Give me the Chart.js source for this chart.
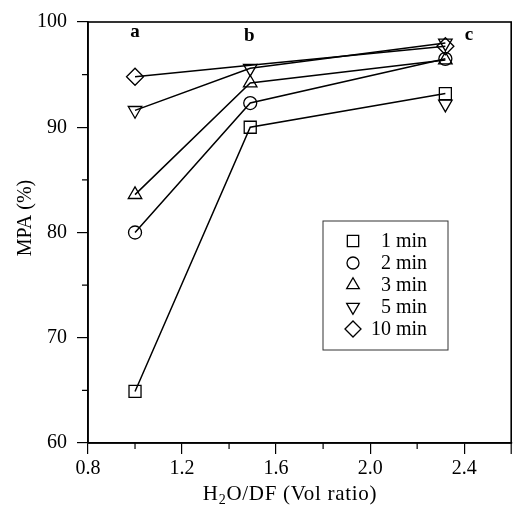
<!DOCTYPE html>
<html>
<head>
<meta charset="utf-8">
<script src="https://cdn.jsdelivr.net/npm/chart.js@4.4.0/dist/chart.umd.min.js"></script>
<style>
  html, body { margin: 0; padding: 0; background: #fff; }
  #wrap { width: 521px; height: 513px; }
</style>
</head>
<body>
<div id="wrap"><canvas id="mpaChart"></canvas></div>
<script>
// values
const ratios = [1.0, 1.49, 2.32];
const seriesLabels = ['1 min', '2 min', '3 min', '5 min', '10 min'];
const mpa1 = [64.9, 90.0, 93.2];
const mpa2 = [80.0, 92.3, 96.5];
const mpa3 = [83.6, 94.2, 96.4];
const mpa5 = [91.6, 95.6, 98.0];
const mpa10 = [94.8, 95.9, 97.7];
// lone 5 min marker at the right with no line
const strayX = [2.32];
const strayY = [92.2];

const xTicks = [0.8, 1.2, 1.6, 2.0, 2.4];
const xMinor = [1.0, 1.4, 1.8, 2.2, 2.6];
const yTicks = [60, 70, 80, 90, 100];
const yMinor = [65, 75, 85, 95];

const panelLetters = ['a', 'b', 'c'];
const letterX = [1.0, 1.486, 2.42];
const letterY = [98.6, 98.2, 98.3];

const serif = "'Liberation Serif', 'Times New Roman', serif";
const markers = [
  { style: 'rect', r: 8.5, rot: 0 },
  { style: 'circle', r: 6.5, rot: 0 },
  { style: 'triangle', r: 7.8, rot: 0 },
  { style: 'triangle', r: 7.8, rot: 180 },
  { style: 'rectRot', r: 8.5, rot: 0 }
];
// the 10 min marker at b is not drawn in the figure (hidden under the 5 min one)
const hiddenPoint = { series: 4, index: 1 };

const allSeries = [mpa1, mpa2, mpa3, mpa5, mpa10];
const datasets = allSeries.map((vals, i) => ({
  label: seriesLabels[i],
  data: vals.map((v, j) => ({ x: ratios[j], y: v })),
  borderColor: '#000',
  borderWidth: 1.5,
  pointStyle: markers[i].style,
  pointRadius: vals.map((v, j) => (i === hiddenPoint.series && j === hiddenPoint.index) ? 0 : markers[i].r),
  pointRotation: markers[i].rot,
  pointBorderColor: '#000',
  pointBackgroundColor: 'rgba(0,0,0,0)',
  pointBorderWidth: 1.3,
  tension: 0
}));
datasets.push({
  label: '',
  data: strayX.map((x, j) => ({ x: x, y: strayY[j] })),
  showLine: false,
  pointStyle: 'triangle',
  pointRadius: 7.8,
  pointRotation: 180,
  pointBorderColor: '#000',
  pointBackgroundColor: 'rgba(0,0,0,0)',
  pointBorderWidth: 1.3
});

const extras = {
  id: 'extras',
  afterDraw(chart) {
    const ctx = chart.ctx;
    const a = chart.chartArea;
    const xs = chart.scales.x, ys = chart.scales.y;
    ctx.save();
    ctx.strokeStyle = '#000';
    ctx.fillStyle = '#000';

    // frame
    ctx.lineWidth = 1.6;
    ctx.strokeRect(a.left, a.top, a.right - a.left, a.bottom - a.top);

    // minor ticks
    ctx.lineWidth = 1.2;
    ctx.beginPath();
    xMinor.forEach(v => {
      const px = xs.getPixelForValue(v);
      const len = v === 2.6 ? 11 : 6;
      ctx.moveTo(px, a.bottom);
      ctx.lineTo(px, a.bottom + len);
    });
    yMinor.forEach(v => {
      const py = ys.getPixelForValue(v);
      ctx.moveTo(a.left, py);
      ctx.lineTo(a.left - 6, py);
    });
    ctx.stroke();

    // panel letters
    ctx.font = 'bold 19px ' + serif;
    ctx.textAlign = 'center';
    ctx.textBaseline = 'alphabetic';
    panelLetters.forEach((t, i) => {
      ctx.fillText(t, xs.getPixelForValue(letterX[i]), ys.getPixelForValue(letterY[i]));
    });

    // legend box
    const bx = 323, by = 221, bw = 125, bh = 129;
    ctx.lineWidth = 1;
    ctx.strokeStyle = '#333';
    ctx.strokeRect(bx, by, bw, bh);
    ctx.strokeStyle = '#000';
    ctx.font = '20px ' + serif;
    ctx.textAlign = 'right';
    ctx.textBaseline = 'middle';
    seriesLabels.forEach((lab, i) => {
      const cy = by + 20 + i * 22;
      ctx.fillStyle = 'rgba(0,0,0,0)';
      ctx.lineWidth = 1.3;
      Chart.helpers.drawPoint(ctx, {
        pointStyle: markers[i].style,
        radius: markers[i].r - 0.5,
        rotation: markers[i].rot,
        borderWidth: 1.3
      }, 353, cy);
      ctx.fillStyle = '#000';
      ctx.fillText(lab, 427, cy + 1);
    });

    // axis titles
    ctx.fillStyle = '#000';
    ctx.textAlign = 'left';
    ctx.textBaseline = 'alphabetic';
    ctx.letterSpacing = '0.7px';
    const big = '21px ' + serif, small = '14px ' + serif;
    const p1 = 'H', p2 = '2', p3 = 'O/DF (Vol ratio)';
    ctx.font = big;
    const w1 = ctx.measureText(p1).width, w3 = ctx.measureText(p3).width;
    ctx.font = small;
    const w2 = ctx.measureText(p2).width;
    const tx = 290 - (w1 + w2 + w3) / 2;
    const base = 500;
    ctx.font = big;
    ctx.fillText(p1, tx, base);
    ctx.font = small;
    ctx.fillText(p2, tx + w1, base + 4);
    ctx.font = big;
    ctx.fillText(p3, tx + w1 + w2, base);

    ctx.letterSpacing = '0px';
    ctx.font = '20px ' + serif;
    ctx.translate(31, 218);
    ctx.rotate(-Math.PI / 2);
    ctx.textAlign = 'center';
    ctx.fillText('MPA (%)', 0, 0);
    ctx.restore();
  }
};

const mpa_ctx = document.getElementById('mpaChart');
new Chart(mpa_ctx, {
  type: 'line',
  data: { datasets: datasets },
  options: {
    responsive: true,
    maintainAspectRatio: false,
    animation: false,
    layout: { padding: { left: 0, right: 2, top: 14, bottom: 0 } },
    plugins: { legend: { display: false }, tooltip: { enabled: false } },
    scales: {
      x: {
        type: 'linear',
        min: 0.8,
        max: 2.6,
        afterBuildTicks: s => { s.ticks = xTicks.map(v => ({ value: v })); },
        afterFit: s => { s.height = 70; },
        ticks: {
          color: '#000',
          padding: 3,
          font: { family: serif, size: 20 },
          callback: v => v.toFixed(1)
        },
        grid: { drawOnChartArea: false, tickLength: 11, color: '#000', lineWidth: 1.2 },
        border: { display: true, color: '#000', width: 1.6 }
      },
      y: {
        type: 'linear',
        min: 60,
        max: 100,
        afterBuildTicks: s => { s.ticks = yTicks.map(v => ({ value: v })); },
        afterFit: s => { s.width = 88; },
        ticks: {
          color: '#000',
          padding: 10,
          font: { family: serif, size: 20 }
        },
        grid: { drawOnChartArea: false, tickLength: 11, color: '#000', lineWidth: 1.2 },
        border: { display: true, color: '#000', width: 1.6 }
      }
    }
  },
  plugins: [extras]
});
</script>
</body>
</html>
